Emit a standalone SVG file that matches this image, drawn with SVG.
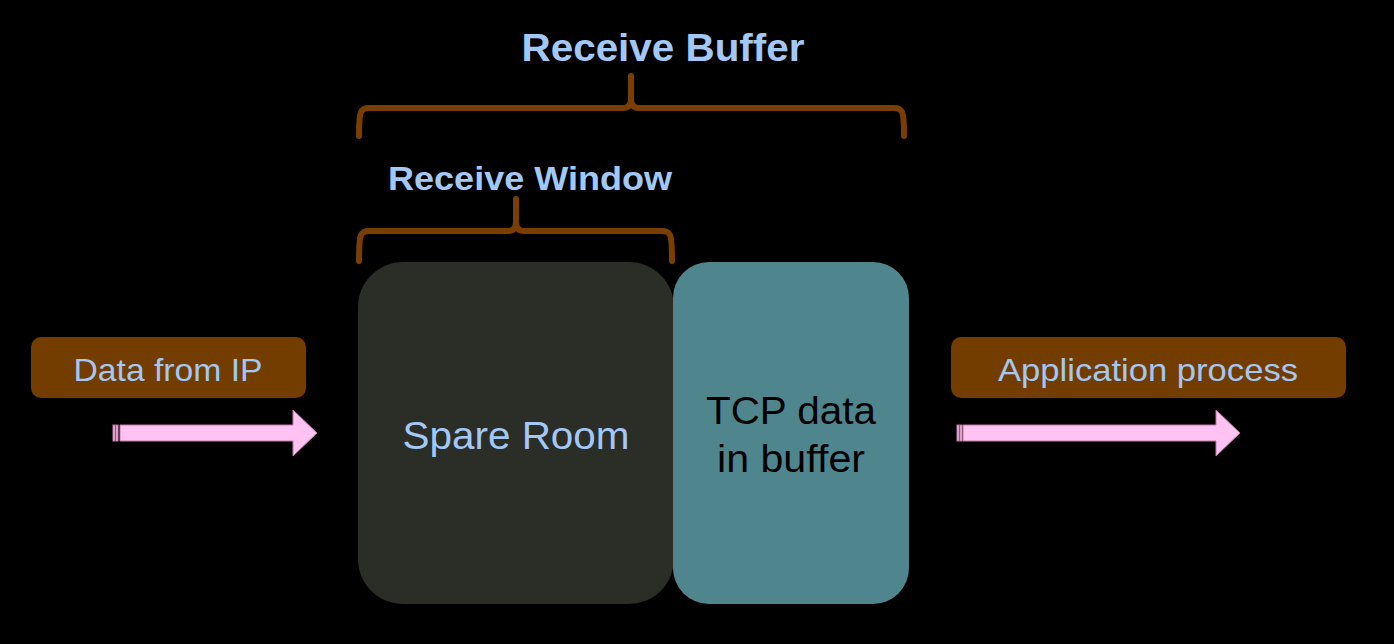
<svg xmlns="http://www.w3.org/2000/svg" width="1394" height="644" viewBox="0 0 1394 644">
<defs>
<style>
.lbl{fill:#a4c8f6;font-family:"Liberation Sans",Arial,sans-serif;}
.b{font-weight:bold;}
.brace{fill:none;stroke:#7a3f00;stroke-width:6;stroke-linejoin:round;stroke-linecap:round;}
.tag{fill:#733d00;}
.arrow{fill:#ffc2f2;stroke:#c07aa8;stroke-width:1;}
</style>
</defs>
<rect width="1394" height="644" fill="#000"/>
<g id="title-buffer">
<text class="lbl b" x="663" y="61" font-size="38" text-anchor="middle" textLength="283" lengthAdjust="spacingAndGlyphs">Receive Buffer</text>
<path class="brace" d="M359,136 Q359,116 361,112 Q363,108 369,108 L623,108 Q631,108 631,99 L631,76 L631,99 Q631,108 639,108 L894,108 Q900,108 902,112 Q904,116 904,136"/>
</g>
<g id="title-window">
<text class="lbl b" x="530" y="190" font-size="34" text-anchor="middle" textLength="284" lengthAdjust="spacingAndGlyphs">Receive Window</text>
<path class="brace" d="M359,261 Q359,239 361,235 Q363,231 369,231 L508,231 Q516,231 516,222 L516,199 L516,222 Q516,231 524,231 L662,231 Q668,231 670,235 Q672,239 672,261"/>
</g>
<g id="spare-room">
<rect x="358" y="262" width="316" height="342" rx="45" ry="45" fill="#2b2d27"/>
<text class="lbl" x="516" y="449" font-size="38" text-anchor="middle" textLength="227" lengthAdjust="spacingAndGlyphs">Spare Room</text>
</g>
<g id="tcp-data">
<rect x="673" y="262" width="236" height="342" rx="36" ry="36" fill="#4f868e"/>
<text x="791" y="424" font-size="38" text-anchor="middle" fill="#000" font-family="Liberation Sans, Arial, sans-serif" textLength="170" lengthAdjust="spacingAndGlyphs">TCP data</text>
<text x="791" y="472" font-size="38" text-anchor="middle" fill="#000" font-family="Liberation Sans, Arial, sans-serif" textLength="148" lengthAdjust="spacingAndGlyphs">in buffer</text>
</g>
<g id="data-from-ip">
<rect class="tag" x="31" y="337" width="275" height="61" rx="10" ry="10"/>
<text class="lbl" x="168" y="381" font-size="32" text-anchor="middle" textLength="189" lengthAdjust="spacingAndGlyphs">Data from IP</text>
</g>
<g id="application-process">
<rect class="tag" x="951" y="337" width="395" height="61" rx="10" ry="10"/>
<text class="lbl" x="1148" y="381" font-size="32" text-anchor="middle" textLength="300" lengthAdjust="spacingAndGlyphs">Application process</text>
</g>
<g id="connectors">
<g>
<rect class="arrow" x="113" y="425" width="2" height="16"/>
<rect class="arrow" x="116" y="425" width="2" height="16"/>
<path class="arrow" d="M120,425 L293,425 L293,410 L317,433 L293,456 L293,441 L120,441 Z"/>
</g>
<g>
<rect class="arrow" x="957" y="425" width="2" height="16"/>
<rect class="arrow" x="960" y="425" width="2" height="16"/>
<path class="arrow" d="M963,425 L1216,425 L1216,410 L1240,433 L1216,456 L1216,441 L963,441 Z"/>
</g>
</g>
</svg>
